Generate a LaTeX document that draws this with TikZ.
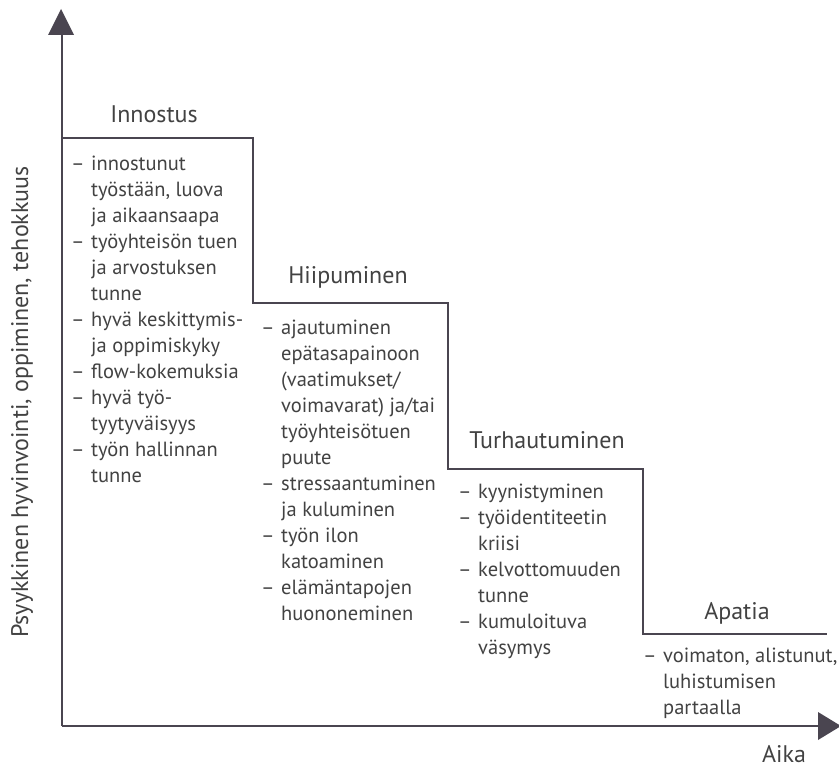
\documentclass[tikz,border=0pt]{standalone}
\usepackage{fontspec}
\setmainfont{PT Sans}
\definecolor{linec}{HTML}{4A4550}
\definecolor{txtc}{HTML}{424242}
\newlength{\dashw}
\setlength{\dashw}{20bp}
\newcommand{\dd}{\makebox[\dashw][l]{–}}
\newcommand{\ii}{\hspace*{\dashw}}
\newcommand{\lst}[1]{\parbox[t]{320bp}{#1}}
\tikzset{
  axisline/.style={draw=linec, line width=2.6bp},
  stepline/.style={draw=linec, line width=2.6bp, line join=miter},
  headtxt/.style={text=txtc, font=\fontsize{24bp}{28bp}\selectfont, inner sep=0pt, anchor=base},
  listtxt/.style={text=txtc, font=\fontsize{20.5bp}{26bp}\selectfont, inner sep=0pt, anchor=base west},
  arrowhead/.style={fill=linec, draw=none}
}
\begin{document}
\begin{tikzpicture}[x=1bp, y=-1bp]
\useasboundingbox (0,0) rectangle (839,769);
% axes
\coordinate (origin) at (62,726);
\coordinate (ytip) at (61,9);
\coordinate (xtip) at (841,726);
\draw[axisline] (origin) -- (62,32);
\draw[axisline] (origin) -- (820,726);
\fill[arrowhead] (ytip) -- (74,35) -- (48,35) -- cycle;
\fill[arrowhead] (xtip) -- (818,740) -- (818,712) -- cycle;
% step line
\coordinate (s0) at (62,138);
\coordinate (s1) at (253,138);
\coordinate (s2) at (253,303);
\coordinate (s3) at (448,303);
\coordinate (s4) at (448,469);
\coordinate (s5) at (643,469);
\coordinate (s6) at (643,634);
\coordinate (s7) at (827,634);
\draw[stepline] (s0) -- (s1) -- (s2) -- (s3) -- (s4) -- (s5) -- (s6) -- (s7);
% headers
\node[headtxt] (h1) at (154,122) {Innostus};
\node[headtxt] (h2) at (348,283) {Hiipuminen};
\node[headtxt] (h3) at (547,448) {Turhautuminen};
\node[headtxt] (h4) at (737,619) {Apatia};
% lists
\node[listtxt] (l1) at (71,170) {\lst{\dd innostunut\\ \ii työstään, luova\\ \ii ja aikaansaapa\\
\dd työyhteisön tuen\\ \ii ja arvostuksen\\ \ii tunne\\
\dd hyvä keskittymis-\\ \ii ja oppimiskyky\\
\dd flow-kokemuksia\\
\dd hyvä työ-\\ \ii tyytyväisyys\\
\dd työn hallinnan\\ \ii tunne}};
\node[listtxt] (l2) at (261,334) {\lst{\dd ajautuminen\\ \ii epätasapainoon\\ \ii (vaatimukset/\\ \ii voimavarat) ja/tai\\ \ii työyhteisötuen\\ \ii puute\\
\dd stressaantuminen\\ \ii ja kuluminen\\
\dd työn ilon\\ \ii katoaminen\\
\dd elämäntapojen\\ \ii huononeminen}};
\node[listtxt] (l3) at (458,498) {\lst{\dd kyynistyminen\\
\dd työidentiteetin\\ \ii kriisi\\
\dd kelvottomuuden\\ \ii tunne\\
\dd kumuloituva\\ \ii väsymys}};
\node[listtxt] (l4) at (643,662) {\lst{\dd voimaton, alistunut,\\ \ii luhistumisen\\ \ii partaalla}};
% axis labels
\node[headtxt] (xl) at (784,762) {Aika};
\node[text=txtc, font=\fontsize{24bp}{28bp}\selectfont, inner sep=0pt, rotate=90, anchor=center] (yl) at (22,402) {Psyykkinen hyvinvointi, oppiminen, tehokkuus};
\end{tikzpicture}
\end{document}
